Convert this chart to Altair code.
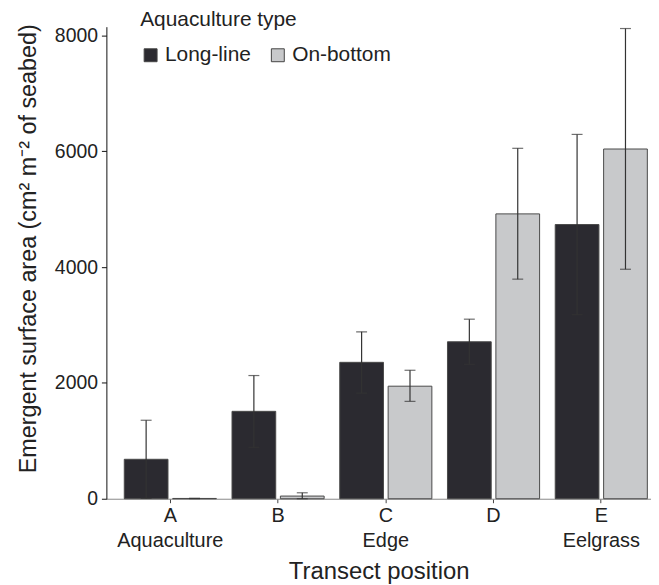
import altair as alt
import pandas as pd

positions = ["A", "A", "B", "B", "C", "C", "D", "D", "E", "E"]
types = ["Long-line", "On-bottom"] * 5
means = [681, 5, 1509, 46, 2355, 1943, 2710, 4918, 4734, 6038]
err_hi = [1355, 8, 2127, 103, 2882, 2218, 3100, 6050, 6290, 8118]
err_lo = [7, 2, 887, 0, 1823, 1681, 2321, 3791, 3178, 3962]

df = pd.DataFrame({"pos": positions, "type": types, "mean": means,
                   "hi": err_hi, "lo": err_lo})

FONT = "Liberation Sans"

x = alt.X("pos:N", title="Transect position",
          scale=alt.Scale(paddingInner=0.145, paddingOuter=0.1, align=0.83),
          axis=alt.Axis(labelAngle=0, labelFontSize=20, titleFontSize=24,
                        labelExpr="datum.value == 'A' ? ['A', 'Aquaculture'] : datum.value == 'C' ? ['C', 'Edge'] : datum.value == 'E' ? ['E', 'Eelgrass'] : datum.value",
                        labelLineHeight=25, labelPadding=3, tickSize=4,
                        domainColor="#888888", tickColor="#444444",
                        labelColor="#222222", titleColor="#222222",
                        titlePadding=9, titleFontWeight="normal"))
xo = alt.XOffset("type:N", scale=alt.Scale(paddingInner=0.0965))
y = alt.Y("mean:Q", title="Emergent surface area (cm² m⁻² of seabed)",
          scale=alt.Scale(domain=[0, 8150], nice=False),
          axis=alt.Axis(values=[0, 2000, 4000, 6000, 8000], grid=False, format="d",
                        labelFontSize=19.5, titleFontSize=23.5, tickSize=5,
                        domainColor="#111111", tickColor="#111111",
                        labelColor="#222222", titleColor="#222222",
                        titlePadding=14, titleFontWeight="normal", labelPadding=4,
                        titleY=223))

color = alt.Color("type:N", title="Aquaculture type",
                  scale=alt.Scale(domain=["Long-line", "On-bottom"],
                                  range=["#2b2a30", "#c8c9cb"]),
                  legend=alt.Legend(orient="none", legendX=34, legendY=-18,
                                    direction="horizontal", symbolType="square",
                                    symbolSize=169, symbolStrokeColor="#444444",
                                    symbolStrokeWidth=1, labelFontSize=21,
                                    titleFontSize=21, titleFontWeight="normal",
                                    titleColor="#222222", labelColor="#222222",
                                    columnPadding=16, labelOffset=4,
                                    titlePadding=15, padding=0))

bars = alt.Chart(df).mark_bar(stroke="#4a4a4a", strokeWidth=1).encode(
    x=x, xOffset=xo, y=y, color=color)

rules = alt.Chart(df).mark_rule(color="#333333", strokeWidth=1.2).encode(
    x="pos:N", xOffset="type:N", y="lo:Q", y2="hi:Q")
cap_hi = alt.Chart(df).mark_tick(color="#333333", thickness=1.2, size=11).encode(
    x="pos:N", xOffset="type:N", y="hi:Q")
cap_lo = alt.Chart(df).mark_tick(color="#333333", thickness=1.2, size=11).encode(
    x="pos:N", xOffset="type:N", y="lo:Q")

chart = alt.layer(bars, rules, cap_hi, cap_lo).properties(
    width=548, height=475,
    padding={"left": 99, "top": 17, "right": 0, "bottom": 84},
    autosize=alt.AutoSizeParams(type="none"),
).configure(font=FONT).configure_view(stroke=None)

chart.save("out.html", embed_options={"renderer": "svg", "actions": False})
